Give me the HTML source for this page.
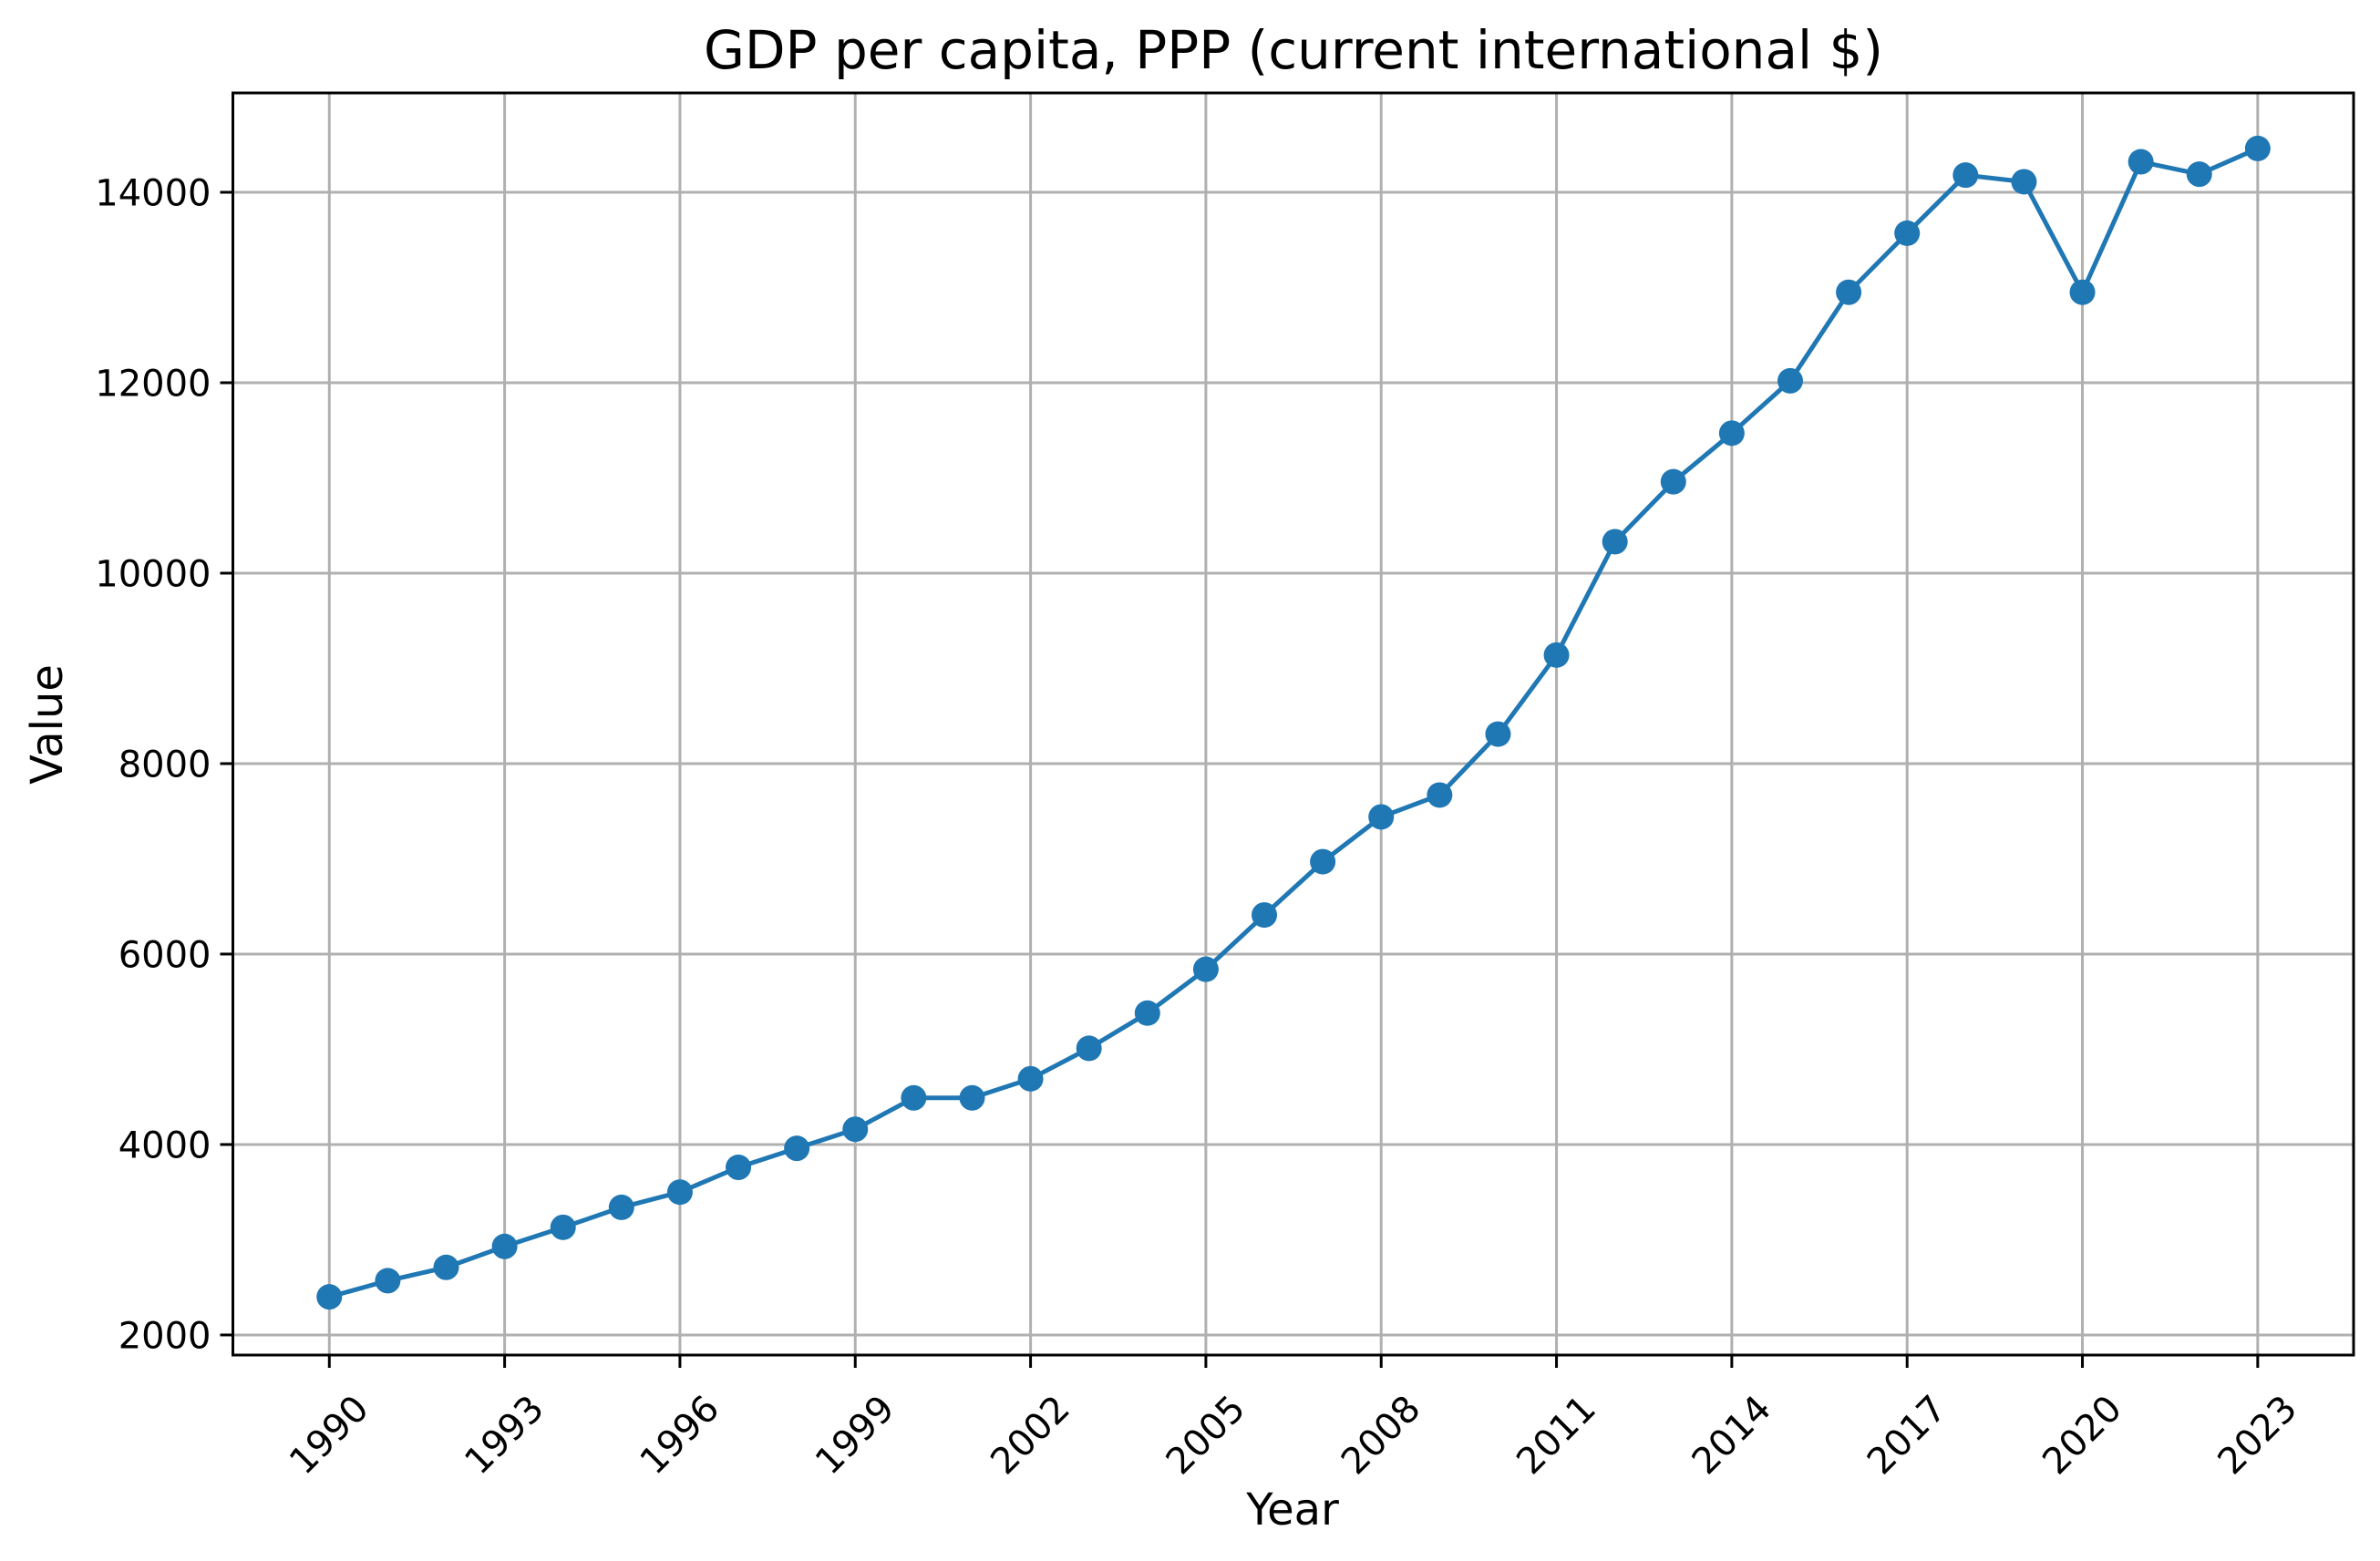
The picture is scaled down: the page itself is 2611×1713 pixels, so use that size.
<!DOCTYPE html>
<html><head><meta charset="utf-8"><style>
html,body{margin:0;padding:0;background:#fff;}
svg{display:block;font-family:"DejaVu Sans","Liberation Sans",sans-serif;}
</style></head><body>
<svg id="chart" width="2611" height="1713" viewBox="0 0 2611 1713" xmlns="http://www.w3.org/2000/svg">
<rect width="2611" height="1713" fill="#fff"/>
<g id="grid"></g>
<g id="series"></g>
<rect x="255.5" y="102" width="2326.5" height="1385" fill="none" stroke="#000" stroke-width="3"/>
<g id="ticks"></g>
<text x="1419" y="75" font-size="58" text-anchor="middle">GDP per capita, PPP (current international $)</text>
<text x="1418" y="1673" font-size="48" text-anchor="middle">Year</text>
<text x="68" y="795" font-size="48" text-anchor="middle" transform="rotate(-90 68 795)">Value</text>
</svg>
<script>
const years = [1990,1991,1992,1993,1994,1995,1996,1997,1998,1999,2000,2001,2002,2003,2004,2005,2006,2007,2008,2009,2010,2011,2012,2013,2014,2015,2016,2017,2018,2019,2020,2021,2022,2023];
const values = [2400,2570,2710,2930,3130,3340,3500,3760,3960,4160,4490,4490,4690,5010,5380,5840,6410,6970,7440,7670,8310,9140,10330,10960,11470,12020,12950,13570,14180,14110,12950,14320,14190,14460];
const xTicks = [1990,1993,1996,1999,2002,2005,2008,2011,2014,2017,2020,2023];
const yTicks = [2000,4000,6000,8000,10000,12000,14000];

const NS = "http://www.w3.org/2000/svg";
const L = 255.5, R = 2582, T = 102, B = 1487;
const X0 = 1988.35, X1 = 2024.64, Y0 = 1789, Y1 = 15043;
function xs(v){ return L + (v - X0) / (X1 - X0) * (R - L); }
function ys(v){ return B - (v - Y0) / (Y1 - Y0) * (B - T); }
function mk(tag, attrs, parent){
  const e = document.createElementNS(NS, tag);
  for (const k in attrs) e.setAttribute(k, attrs[k]);
  parent.appendChild(e);
  return e;
}
const grid = document.getElementById('grid');
const ticks = document.getElementById('ticks');
const series = document.getElementById('series');

xTicks.forEach(t => {
  const x = xs(t);
  const g = mk('line', {x1:x, x2:x, y1:T, y2:B, stroke:'#b0b0b0', 'stroke-width':3}, grid);
  
  
  const tk = mk('line', {x1:x, x2:x, y1:B, y2:B+14, stroke:'#000', 'stroke-width':3}, ticks);
  
  
  const cy = 1575;
  const lb = mk('text', {x:x, y:cy, 'font-size':40, 'text-anchor':'middle', 'dominant-baseline':'central', transform:'rotate(-45 '+x+' '+cy+')'}, ticks);
  lb.textContent = t;
  
  
});
yTicks.forEach(t => {
  const y = ys(t);
  const g = mk('line', {x1:L, x2:R, y1:y, y2:y, stroke:'#b0b0b0', 'stroke-width':3}, grid);
  
  
  const tk = mk('line', {x1:L-14, x2:L, y1:y, y2:y, stroke:'#000', 'stroke-width':3}, ticks);
  
  
  const lb = mk('text', {x:L-24, y:y+14.5, 'font-size':40, 'text-anchor':'end'}, ticks);
  lb.textContent = t;
  
  
});
const pts = years.map((yr,i) => xs(yr).toFixed(1) + ',' + ys(values[i]).toFixed(1)).join(' ');
const line = mk('polyline', {points:pts, fill:'none', stroke:'#1f77b4', 'stroke-width':5, 'stroke-linejoin':'round'}, series);


years.forEach((yr,i) => {
  const c = mk('circle', {cx:xs(yr), cy:ys(values[i]), r:14, fill:'#1f77b4'}, series);
  
  
});
</script>
</body></html>
